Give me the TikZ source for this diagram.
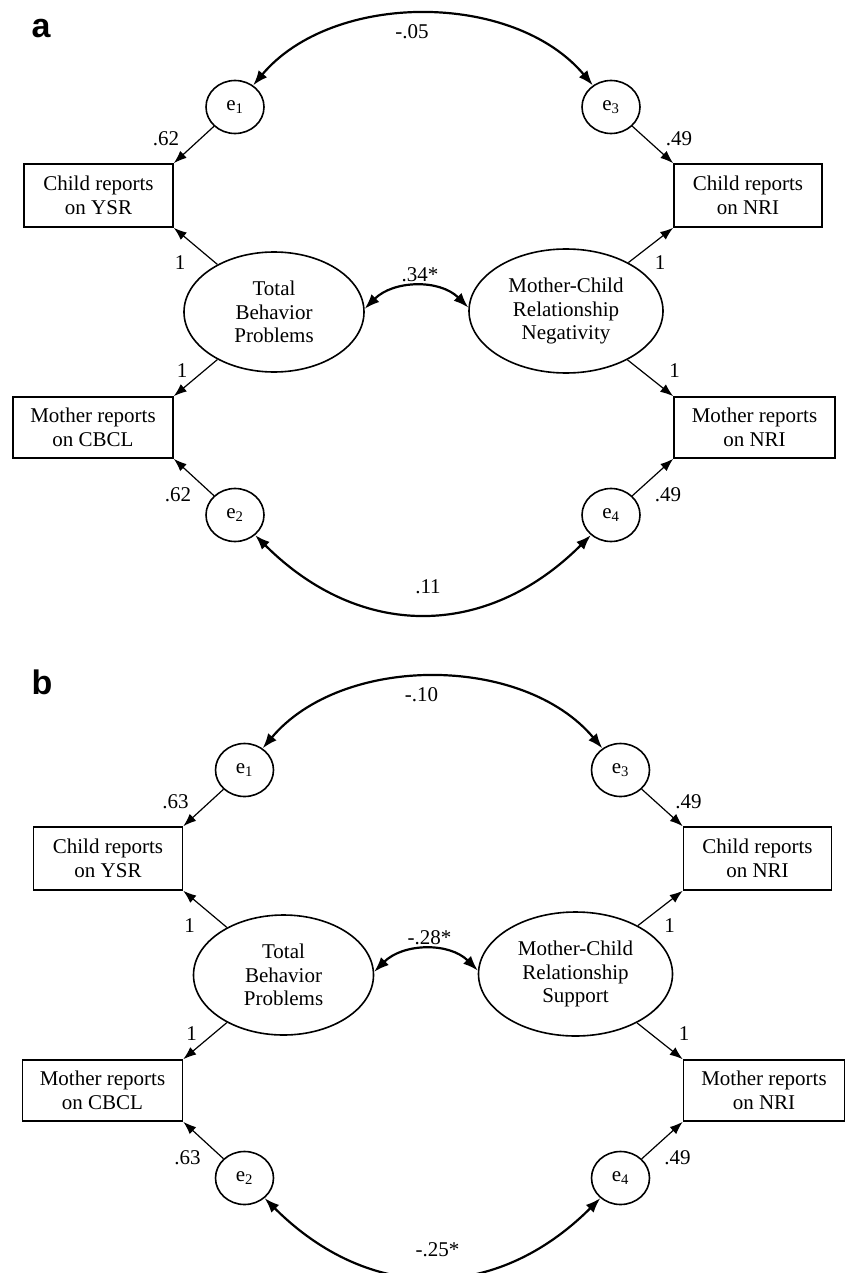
\documentclass[tikz,border=0pt]{standalone}
\usepackage{fontspec}
\setmainfont{Liberation Serif}
\newfontfamily\lettersans{Liberation Sans}
\usetikzlibrary{arrows.meta,shapes.geometric}
\tikzset{
  txt/.style={font=\fontsize{21}{23.5}\selectfont},
  errnode/.style={ellipse,draw,line width=1.6pt,minimum width=58pt,minimum height=53pt,inner sep=0pt,txt},
  latnode/.style={ellipse,draw,line width=1.6pt,inner sep=0pt,align=center,txt},
  obsnode/.style={rectangle,draw,line width=1.6pt,inner sep=0pt,align=center,txt},
  load/.style={-{Latex[length=13pt,width=9.5pt]},line width=1.2pt},
  cov/.style={{Latex[length=15pt,width=11pt]}-{Latex[length=15pt,width=11pt]},line width=2.2pt},
  num/.style={inner sep=0pt,txt},
  panelletter/.style={inner sep=0pt,font=\lettersans\bfseries\fontsize{34}{36}\selectfont},
}
% #1 prefix, #2 top cov, #3 left loading, #4 right loading, #5 latent cov, #6 bottom cov, #7 last word of right latent
\newcommand\sempanel[7]{%
  \node[errnode] (#1e1) at (235,-107) {e\textsubscript{1}};
  \node[errnode] (#1e3) at (611,-107) {e\textsubscript{3}};
  \node[errnode] (#1e2) at (235,-515) {e\textsubscript{2}};
  \node[errnode] (#1e4) at (611,-515) {e\textsubscript{4}};
  \node[obsnode,minimum width=149pt,minimum height=63pt] (#1ysr) at (98.5,-195.5) {Child reports\\on YSR};
  \node[obsnode,minimum width=148pt,minimum height=63pt] (#1cnri) at (748,-195.5) {Child reports\\on NRI};
  \node[obsnode,minimum width=160pt,minimum height=61pt] (#1cbcl) at (93,-427.5) {Mother reports\\on CBCL};
  \node[obsnode,minimum width=161pt,minimum height=61pt] (#1mnri) at (754.5,-427.5) {Mother reports\\on NRI};
  \node[latnode,minimum width=180pt,minimum height=120pt] (#1tbp) at (274,-312) {Total\\Behavior\\Problems};
  \node[latnode,minimum width=194pt,minimum height=124pt] (#1mcr) at (566,-311) {Mother-Child\\Relationship\\#7};
  \draw[load] (#1e1) -- (#1ysr.north east);
  \draw[load] (#1tbp) -- (#1ysr.south east);
  \draw[load] (#1tbp) -- (#1cbcl.north east);
  \draw[load] (#1e2) -- (#1cbcl.south east);
  \draw[load] (#1e3) -- (#1cnri.north west);
  \draw[load] (#1mcr) -- (#1cnri.south west);
  \draw[load] (#1mcr) -- (#1mnri.north west);
  \draw[load] (#1e4) -- (#1mnri.south west);
  \draw[cov] (#1e1) to[out=50,in=130,looseness=0.93] (#1e3);
  \draw[cov] (#1tbp.2) to[out=45,in=135,looseness=1] (#1mcr.178);
  \draw[cov] (#1e2) to[out=-45,in=-135,looseness=1.13] (#1e4);
  \node[num] (#1l1) at (166,-139) {#3};
  \node[num] (#1l2) at (679,-139) {#4};
  \node[num] (#1l3) at (180,-263) {1};
  \node[num] (#1l4) at (660,-263) {1};
  \node[num] (#1l5) at (182,-371) {1};
  \node[num] (#1l6) at (674.5,-371) {1};
  \node[num] (#1l7) at (178,-495) {#3};
  \node[num] (#1l8) at (668,-495) {#4};
  \node[num] (#1c1) at (412,-32) {#2};
  \node[num] (#1c2) at (420,-275) {#5};
  \node[num] (#1c3) at (428,-587) {#6};
}
\begin{document}
\begin{tikzpicture}[x=1pt,y=1pt]
  \useasboundingbox (0,0) rectangle (845,-1273);
  \node[panelletter] (lettera) at (41,-29) {a};
  \node[panelletter] (letterb) at (42,-682) {b};
  \begin{scope}
    \sempanel{a}{-.05}{.62}{.49}{.34*}{.11}{Negativity}
  \end{scope}
  \begin{scope}[shift={(9.5,-663)}]
    \sempanel{b}{-.10}{.63}{.49}{-.28*}{-.25*}{Support}
  \end{scope}
\end{tikzpicture}
\end{document}
